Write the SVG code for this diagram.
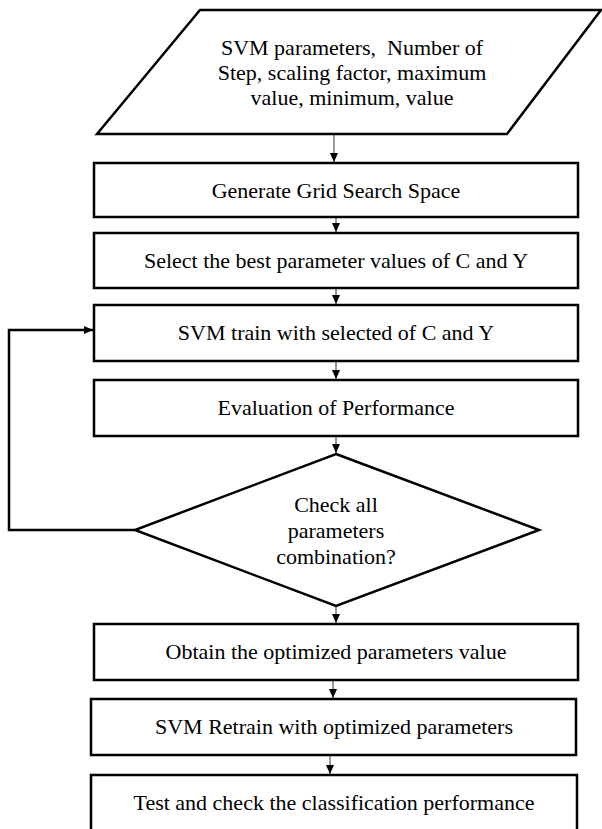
<svg xmlns="http://www.w3.org/2000/svg" width="602" height="829" viewBox="0 0 602 829">
<defs>
<style>
.shape{fill:#fff;stroke:#000;stroke-width:2.5}
.t{font-family:"Liberation Serif","Times New Roman",serif;font-size:22px;fill:#000;text-anchor:middle;white-space:pre}
.c{fill:none;stroke:#333;stroke-width:1}
.loop{fill:none;stroke:#000;stroke-width:2.5}
</style>
<marker id="ah" markerWidth="10" markerHeight="10" refX="9" refY="5" orient="auto" markerUnits="userSpaceOnUse">
<path d="M0,1 L9,5 L0,9 Z" fill="#000"/>
</marker>
</defs>
<rect width="602" height="829" fill="#fff"/>
<g id="connectors">
<line class="c" x1="334" y1="135" x2="334" y2="162" marker-end="url(#ah)"/>
<line class="c" x1="336" y1="218" x2="336" y2="232" marker-end="url(#ah)"/>
<line class="c" x1="336" y1="289" x2="336" y2="304" marker-end="url(#ah)"/>
<line class="c" x1="336" y1="362" x2="336" y2="379" marker-end="url(#ah)"/>
<line class="c" x1="336" y1="437" x2="336" y2="453" marker-end="url(#ah)"/>
<line class="c" x1="336" y1="606" x2="336" y2="623" marker-end="url(#ah)"/>
<line class="c" x1="333" y1="681" x2="333" y2="698" marker-end="url(#ah)"/>
<line class="c" x1="330" y1="756" x2="330" y2="774" marker-end="url(#ah)"/>
<polyline class="loop" points="135,530 9,530 9,330 93,330" marker-end="url(#ah)"/>
</g>
<g id="input">
<polygon class="shape" points="200,10 601,10 507,134 97,134"/>
<text class="t" x="352" y="55" xml:space="preserve">SVM parameters,  Number of</text>
<text class="t" x="352" y="80">Step, scaling factor, maximum</text>
<text class="t" x="352" y="105">value, minimum, value</text>
</g>
<g id="generate">
<rect class="shape" x="94" y="163" width="484" height="54"/>
<text class="t" x="336" y="198">Generate Grid Search Space</text>
</g>
<g id="select">
<rect class="shape" x="94" y="233" width="484" height="55"/>
<text class="t" x="336" y="268">Select the best parameter values of C and Y</text>
</g>
<g id="train">
<rect class="shape" x="94" y="305" width="484" height="56"/>
<text class="t" x="336" y="340">SVM train with selected of C and Y</text>
</g>
<g id="evaluate">
<rect class="shape" x="94" y="380" width="484" height="56"/>
<text class="t" x="336" y="415">Evaluation of Performance</text>
</g>
<g id="check">
<polygon class="shape" points="336,454 539,530 336,606 135,530"/>
<text class="t" x="336" y="512">Check all</text>
<text class="t" x="336" y="538">parameters</text>
<text class="t" x="336" y="564">combination?</text>
</g>
<g id="obtain">
<rect class="shape" x="94" y="624" width="484" height="56"/>
<text class="t" x="336" y="659">Obtain the optimized parameters value</text>
</g>
<g id="retrain">
<rect class="shape" x="91" y="699" width="485" height="56"/>
<text class="t" x="334" y="734">SVM Retrain with optimized parameters</text>
</g>
<g id="test">
<rect class="shape" x="91" y="775" width="486" height="60"/>
<text class="t" x="334" y="810">Test and check the classification performance</text>
</g>
</svg>
